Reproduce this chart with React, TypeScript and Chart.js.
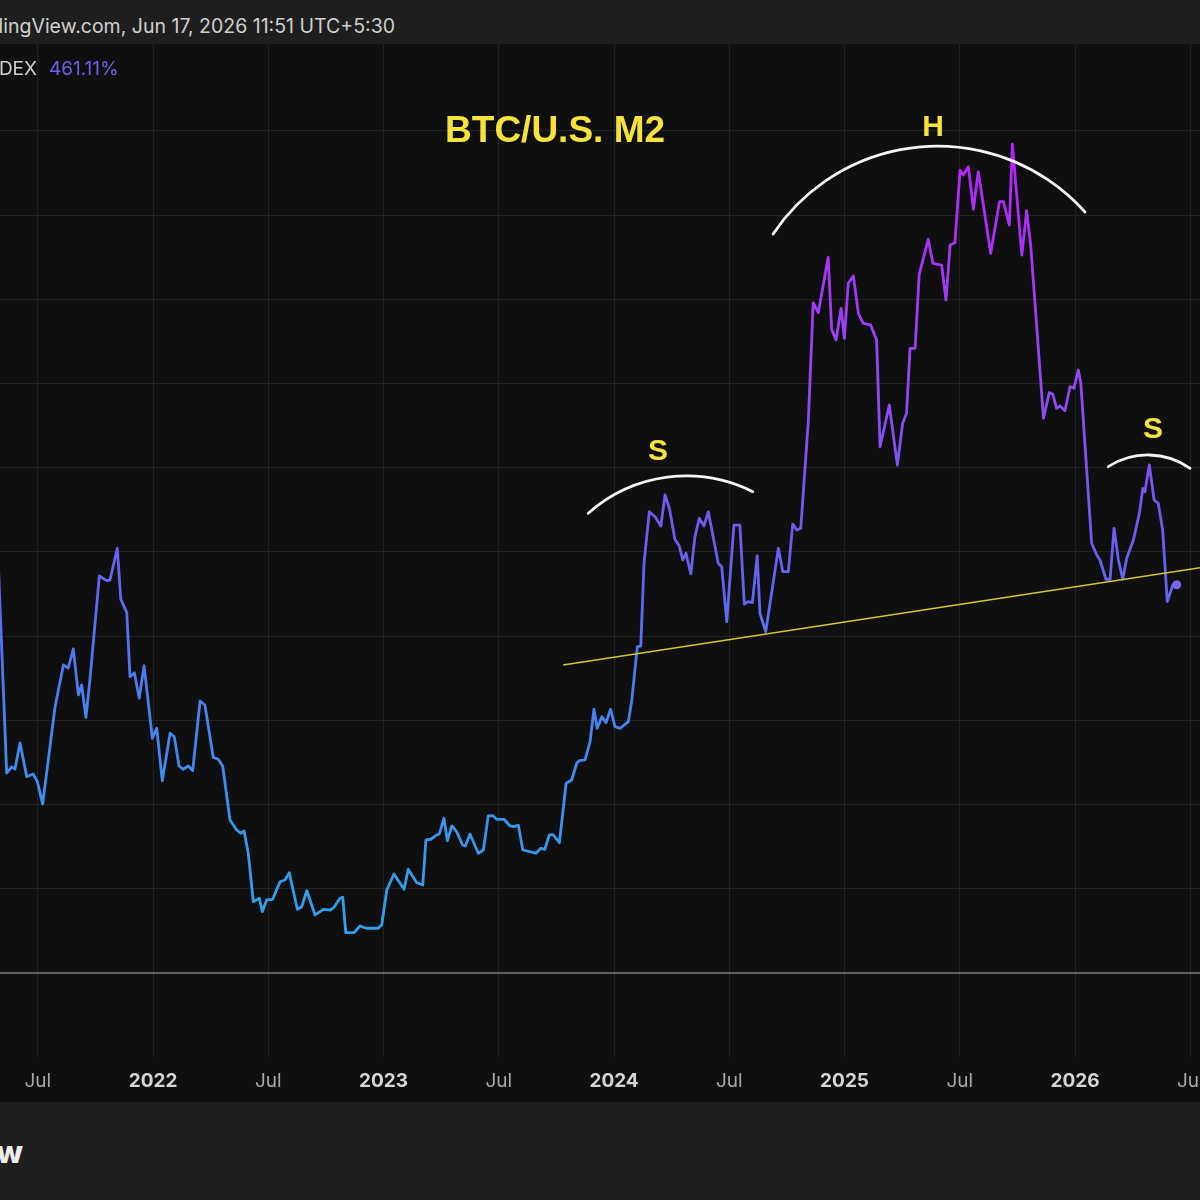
import React, { useEffect, useRef } from "react";
import { Chart, registerables } from "chart.js";

Chart.register(...registerables);

// ---- data (x = decimal year, y = % change) ----
const dates: number[] = [
  2021.323, 2021.365, 2021.387, 2021.401, 2021.423, 2021.452, 2021.48, 2021.498, 2021.521, 2021.575,
  2021.611, 2021.632, 2021.654, 2021.676, 2021.69, 2021.709, 2021.726, 2021.767, 2021.799, 2021.813,
  2021.845, 2021.86, 2021.886, 2021.9, 2021.919, 2021.94, 2021.961, 2021.997, 2022.016, 2022.04,
  2022.074, 2022.092, 2022.113, 2022.131, 2022.153, 2022.172, 2022.204, 2022.225, 2022.261, 2022.283,
  2022.302, 2022.334, 2022.363, 2022.38, 2022.395, 2022.413, 2022.435, 2022.45, 2022.461, 2022.474,
  2022.493, 2022.519, 2022.551, 2022.572, 2022.591, 2022.626, 2022.645, 2022.667, 2022.703, 2022.739,
  2022.768, 2022.785, 2022.811, 2022.823, 2022.836, 2022.872, 2022.898, 2022.924, 2022.977, 2022.992,
  2023.014, 2023.045, 2023.089, 2023.107, 2023.144, 2023.17, 2023.184, 2023.205, 2023.231, 2023.242,
  2023.262, 2023.277, 2023.296, 2023.317, 2023.343, 2023.355, 2023.375, 2023.411, 2023.433, 2023.454,
  2023.474, 2023.491, 2023.523, 2023.549, 2023.563, 2023.585, 2023.604, 2023.661, 2023.682, 2023.7,
  2023.719, 2023.736, 2023.763, 2023.792, 2023.816, 2023.838, 2023.849, 2023.874, 2023.896, 2023.913,
  2023.927, 2023.947, 2023.965, 2023.985, 2024.004, 2024.026, 2024.062, 2024.077, 2024.101, 2024.116,
  2024.13, 2024.153, 2024.178, 2024.203, 2024.221, 2024.24, 2024.264, 2024.283, 2024.298, 2024.312,
  2024.333, 2024.351, 2024.37, 2024.39, 2024.409, 2024.452, 2024.467, 2024.489, 2024.52, 2024.546,
  2024.565, 2024.582, 2024.6, 2024.621, 2024.633, 2024.658, 2024.713, 2024.732, 2024.756, 2024.775,
  2024.793, 2024.81, 2024.843, 2024.864, 2024.886, 2024.929, 2024.944, 2024.963, 2024.985, 2024.999,
  2025.016, 2025.038, 2025.06, 2025.081, 2025.113, 2025.139, 2025.154, 2025.194, 2025.229, 2025.252,
  2025.269, 2025.284, 2025.306, 2025.324, 2025.363, 2025.383, 2025.421, 2025.44, 2025.458, 2025.479,
  2025.501, 2025.515, 2025.537, 2025.559, 2025.58, 2025.634, 2025.672, 2025.689, 2025.715, 2025.728,
  2025.769, 2025.79, 2025.808, 2025.863, 2025.888, 2025.903, 2025.92, 2025.935, 2025.956, 2025.978,
  2025.995, 2026.014, 2026.025, 2026.072, 2026.094, 2026.108, 2026.134, 2026.152, 2026.169, 2026.188,
  2026.207, 2026.224, 2026.253, 2026.279, 2026.294, 2026.303, 2026.322, 2026.343, 2026.361, 2026.38,
  2026.4, 2026.424, 2026.441,
];

const values: number[] = [
  526.1, 237.5, 244.6, 242.3, 273.1, 233.1, 236.3, 227.2, 200.7, 316.3,
  365.8, 362.2, 384.8, 330.2, 342.0, 303.7, 348.0, 471.5, 465.9, 466.7,
  504.4, 443.8, 427.9, 351.9, 356.6, 326.2, 365.0, 278.7, 290.6, 228.4,
  284.7, 280.6, 245.8, 241.9, 245.8, 240.3, 323.0, 318.3, 256.2, 253.8,
  245.8, 181.7, 169.8, 165.9, 168.6, 142.2, 84.7, 86.7, 88.7, 72.8,
  86.7, 87.5, 108.4, 110.4, 119.1, 75.6, 78.7, 97.7, 68.9, 75.6,
  74.8, 78.0, 88.7, 89.9, 47.9, 47.9, 55.8, 53.1, 53.1, 57.0,
  98.6, 117.6, 99.4, 123.2, 107.2, 104.5, 158.0, 158.8, 163.9, 165.1,
  183.7, 157.1, 174.6, 167.8, 152.0, 150.8, 165.1, 142.2, 146.1, 186.5,
  186.8, 182.5, 182.5, 174.6, 173.7, 175.4, 146.1, 142.2, 148.1, 146.9,
  163.9, 163.9, 154.7, 225.3, 229.2, 249.0, 252.1, 253.0, 274.7, 313.2,
  290.6, 304.4, 297.3, 313.2, 292.5, 290.6, 298.4, 324.2, 387.5, 388.3,
  486.6, 547.8, 541.9, 530.9, 567.7, 551.9, 515.1, 507.1, 490.5, 498.4,
  473.9, 518.2, 540.0, 530.9, 547.8, 486.6, 482.5, 417.2, 532.0, 532.0,
  438.2, 441.0, 439.8, 495.2, 427.2, 405.3, 504.4, 476.6, 476.6, 533.2,
  526.1, 528.1, 656.7, 796.0, 784.2, 850.0, 764.5, 751.7, 789.4, 753.8,
  819.1, 827.8, 783.5, 771.6, 769.6, 751.7, 625.0, 674.6, 603.3, 652.8,
  664.7, 741.9, 741.9, 830.1, 871.3, 842.8, 840.8, 799.3, 864.6, 867.3,
  953.6, 947.7, 957.6, 907.0, 951.6, 854.7, 916.0, 916.0, 888.3, 984.5,
  852.7, 905.3, 862.5, 658.8, 689.2, 687.6, 670.6, 673.4, 667.8, 696.3,
  694.4, 716.1, 700.3, 510.3, 496.4, 490.5, 467.6, 467.6, 528.1, 490.5,
  467.6, 492.5, 514.2, 545.9, 575.6, 571.6, 603.3, 561.7, 557.8, 526.1,
  441.0, 460.8, 461.11,
];

const tickPositions: number[] = [2021.5, 2022, 2022.5, 2023, 2023.5, 2024, 2024.5, 2025, 2025.5, 2026, 2026.5];
const tickLabels: string[] = ["Jul", "2022", "Jul", "2023", "Jul", "2024", "Jul", "2025", "Jul", "2026", "Jul"];
const gridValues: number[] = [0, 100, 200, 300, 400, 500, 600, 700, 800, 900, 1000];

const xRange: number[] = [2021.336, 2026.542];
const yRange: number[] = [-99.8, 1103.3];

// neckline (two anchor points in data units)
const necklineX: number[] = [2023.779, 2026.62];
const necklineY: number[] = [365.8, 484.5];

// shoulder / head arcs: start, apex, end (data units)
const leftShoulderArcX: number[] = [2023.888, 2024.294, 2024.602];
const leftShoulderArcY: number[] = [545.9, 590.2, 571.6];
const headArcX: number[] = [2024.69, 2025.501, 2026.043];
const headArcY: number[] = [877.6, 980.4, 903.8];
const rightShoulderArcX: number[] = [2026.144, 2026.318, 2026.499];
const rightShoulderArcY: number[] = [601.3, 615.2, 599.4];

// text annotations
const annotationTexts: string[] = ["BTC/U.S. M2", "S", "H", "S"];
const annotationX: number[] = [2023.744, 2024.191, 2025.384, 2026.338];
const annotationY: number[] = [998.8, 618.7, 1003.5, 644.9];

const lastValueLabel = "461.11%";

const FONT = "Inter, 'Noto Sans', 'DejaVu Sans', sans-serif";
const HEAD_FONT = "'Liberation Sans', Arial, sans-serif";

function circleThrough(p1: number[], p2: number[], p3: number[]) {
  const [ax, ay] = p1;
  const [bx, by] = p2;
  const [cx, cy] = p3;
  const d = 2 * (ax * (by - cy) + bx * (cy - ay) + cx * (ay - by));
  const a2 = ax * ax + ay * ay;
  const b2 = bx * bx + by * by;
  const c2 = cx * cx + cy * cy;
  const ux = (a2 * (by - cy) + b2 * (cy - ay) + c2 * (ay - by)) / d;
  const uy = (a2 * (cx - bx) + b2 * (ax - cx) + c2 * (bx - ax)) / d;
  return { ux, uy, r: Math.hypot(ax - ux, ay - uy) };
}

const annotationPlugin = {
  id: "hsAnnotations",
  afterDatasetsDraw(chart: any) {
    const { ctx, chartArea, scales } = chart;
    const xs = scales.x;
    const ys = scales.y;
    ctx.save();
    ctx.beginPath();
    ctx.rect(chartArea.left, chartArea.top, chartArea.right - chartArea.left, chartArea.bottom - chartArea.top);
    ctx.clip();

    // neckline
    ctx.strokeStyle = "#d8c734";
    ctx.lineWidth = 1.6;
    ctx.beginPath();
    ctx.moveTo(xs.getPixelForValue(necklineX[0]), ys.getPixelForValue(necklineY[0]));
    ctx.lineTo(xs.getPixelForValue(necklineX[1]), ys.getPixelForValue(necklineY[1]));
    ctx.stroke();

    // arcs
    const arcs = [
      [leftShoulderArcX, leftShoulderArcY],
      [headArcX, headArcY],
      [rightShoulderArcX, rightShoulderArcY],
    ];
    ctx.strokeStyle = "#f4f4f4";
    ctx.lineWidth = 2.8;
    ctx.lineCap = "round";
    arcs.forEach(([ax, ay]) => {
      const pts = ax.map((v: number, i: number) => [xs.getPixelForValue(v), ys.getPixelForValue(ay[i])]);
      const c = circleThrough(pts[0], pts[1], pts[2]);
      const a1 = Math.atan2(pts[0][1] - c.uy, pts[0][0] - c.ux);
      const a2 = Math.atan2(pts[2][1] - c.uy, pts[2][0] - c.ux);
      ctx.beginPath();
      ctx.arc(c.ux, c.uy, c.r, a1, a2, false);
      ctx.stroke();
    });

    // texts
    ctx.fillStyle = "#f5e33b";
    ctx.textAlign = "center";
    ctx.textBaseline = "middle";
    annotationTexts.forEach((t, i) => {
      ctx.font = i === 0 ? `bold 37px ${HEAD_FONT}` : `bold 30px ${HEAD_FONT}`;
      ctx.fillText(t, xs.getPixelForValue(annotationX[i]), ys.getPixelForValue(annotationY[i]));
    });
    ctx.restore();
  },
};

const colorStopValues = [960, 720, 500, 300, 120, 40];
const colorStops = ["#b426f6", "#9547f4", "#6a5ef0", "#4684f0", "#329cec", "#2ea3ea"];

function ChartCanvas() {
  const ref = useRef<HTMLCanvasElement | null>(null);
  useEffect(() => {
    if (!ref.current) return;
    const n = Math.min(dates.length, values.length);
    const points = [];
    for (let i = 0; i < n; i++) points.push({ x: dates[i], y: values[i] });

    const chart = new Chart(ref.current, {
      type: "line",
      data: {
        datasets: [
          {
            data: points,
            borderWidth: 2.8,
            borderJoinStyle: "round",
            borderCapStyle: "round",
            tension: 0,
            borderColor: (context: any) => {
              const { ctx, chartArea, scales } = context.chart;
              if (!chartArea || !scales.y) return "#6a5ef0";
              const y0 = scales.y.getPixelForValue(colorStopValues[0]);
              const y1 = scales.y.getPixelForValue(colorStopValues[colorStopValues.length - 1]);
              const g = ctx.createLinearGradient(0, y0, 0, y1);
              colorStopValues.forEach((v, i) => {
                const p = scales.y.getPixelForValue(v);
                g.addColorStop(Math.min(1, Math.max(0, (p - y0) / (y1 - y0))), colorStops[i]);
              });
              return g;
            },
            pointRadius: (c: any) => (c.dataIndex === n - 1 ? 4.5 : 0),
            pointBackgroundColor: "#7668f0",
            pointBorderWidth: 0,
            pointHoverRadius: 0,
          },
        ],
      },
      options: {
        animation: false,
        responsive: false,
        maintainAspectRatio: false,
        layout: { padding: 0, autoPadding: false },
        plugins: { legend: { display: false }, tooltip: { enabled: false }, title: { display: false } },
        events: [],
        scales: {
          x: {
            type: "linear",
            min: xRange[0],
            max: xRange[1],
            border: { display: false },
            grid: { color: "#222222", lineWidth: 1, drawTicks: false },
            afterBuildTicks: (scale: any) => {
              scale.ticks = tickPositions.map((v) => ({ value: v }));
            },
            afterFit: (scale: any) => {
              scale.height = 45;
              scale.paddingLeft = 0;
              scale.paddingRight = 0;
            },
            ticks: {
              autoSkip: false,
              maxRotation: 0,
              minRotation: 0,
              padding: 13,
              callback: (v: any) => {
                const i = tickPositions.indexOf(Number(v));
                return i >= 0 ? tickLabels[i] : "";
              },
              color: (c: any) => {
                const i = tickPositions.indexOf(c.tick ? c.tick.value : -1);
                return i >= 0 && tickLabels[i] !== "Jul" ? "#d6d6d6" : "#a9a9a9";
              },
              font: (c: any) => {
                const i = tickPositions.indexOf(c.tick ? c.tick.value : -1);
                const isYear = i >= 0 && tickLabels[i] !== "Jul";
                return { family: FONT, size: 19, weight: isYear ? "bold" : "normal" } as any;
              },
            },
          },
          y: {
            type: "linear",
            position: "right",
            min: yRange[0],
            max: yRange[1],
            border: { display: false },
            afterBuildTicks: (scale: any) => {
              scale.ticks = gridValues.map((v) => ({ value: v }));
            },
            afterFit: (scale: any) => {
              scale.width = 0;
              scale.paddingTop = 0;
              scale.paddingBottom = 0;
            },
            grid: {
              drawTicks: false,
              color: (c: any) => (c.tick && c.tick.value === 0 ? "#606060" : "#222222"),
              lineWidth: (c: any) => (c.tick && c.tick.value === 0 ? 2 : 1),
            },
            ticks: { display: false },
          },
        },
      } as any,
      plugins: [annotationPlugin],
    });
    return () => chart.destroy();
  }, []);
  return (
    <canvas
      ref={ref}
      width={1200}
      height={1058}
      style={{ position: "absolute", left: 0, top: 44, width: 1200, height: 1058, display: "block" }}
    />
  );
}

export default function App() {
  return (
    <div
      style={{
        position: "fixed",
        left: 0,
        top: 0,
        width: 1200,
        height: 1200,
        overflow: "hidden",
        background: "#0f0f0f",
        fontFamily: FONT,
      }}
    >
      <div style={{ position: "absolute", left: 0, top: 0, width: 1200, height: 44, background: "#1e1e1e" }} />
      <div
        style={{
          position: "absolute",
          right: 805,
          top: 14,
          height: 24,
          lineHeight: "24px",
          fontSize: 19.5,
          color: "#d0d0d0",
          whiteSpace: "nowrap",
        }}
      >
        TradingView.com, Jun 17, 2026 11:51 UTC+5:30
      </div>
      <ChartCanvas />
      <div
        style={{
          position: "absolute",
          right: 1163,
          top: 57,
          height: 24,
          lineHeight: "24px",
          fontSize: 19,
          color: "#cfcfcf",
          whiteSpace: "nowrap",
          zIndex: 2,
        }}
      >
        DEX
      </div>
      <div
        style={{
          position: "absolute",
          left: 49,
          top: 57,
          height: 24,
          lineHeight: "24px",
          fontSize: 19,
          color: "#6d60e6",
          whiteSpace: "nowrap",
          zIndex: 2,
        }}
      >
        {lastValueLabel}
      </div>
      <div style={{ position: "absolute", left: 0, top: 1102, width: 1200, height: 98, background: "#1f1f1f" }} />
      <div
        style={{
          position: "absolute",
          right: 1177,
          top: 1132,
          height: 40,
          lineHeight: "40px",
          fontSize: 31,
          fontWeight: 800,
          color: "#ececec",
          whiteSpace: "nowrap",
        }}
      >
        TradingView
      </div>
    </div>
  );
}
